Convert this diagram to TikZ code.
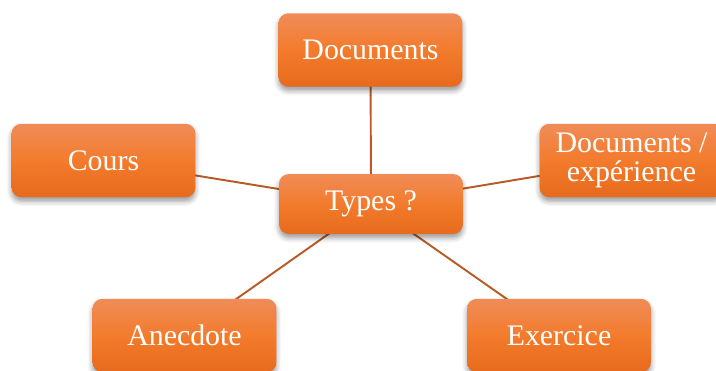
\documentclass[tikz,border=0pt]{standalone}
\usepackage{fontspec}
\setmainfont{Liberation Serif}
\usetikzlibrary{shadows.blur,backgrounds}

\definecolor{boxtop}{HTML}{F08C58}
\definecolor{boxmid}{HTML}{F37B2C}
\definecolor{boxbot}{HTML}{E86A1C}
\definecolor{linkcol}{HTML}{B85A26}

\tikzset{
  topic/.style={rectangle, rounded corners=0.2cm, minimum width=3.68cm, minimum height=1.47cm,
    top color=boxtop, bottom color=boxbot, middle color=boxmid, text=white, align=center,
    font=\fontsize{17}{16.5}\selectfont,
    blur shadow={shadow xshift=0pt, shadow yshift=-0.08cm, shadow blur radius=0.1cm}},
  link/.style={draw=linkcol, line width=1.1pt}
}

\begin{document}
\begin{tikzpicture}[x=0.02cm,y=-0.02cm]
\useasboundingbox (0,0) rectangle (716,371);
\node[topic, minimum height=1.2cm] (types) at (371,204) {Types ?};
\node[topic] (docs) at (370.5,50) {Documents};
\node[topic] (cours) at (103.5,160.5) {Cours};
\node[topic] (exp) at (631.5,160.5) {Documents /\\expérience};
\node[topic] (anec) at (184.5,335.5) {Anecdote};
\node[topic] (exer) at (559,335.5) {Exercice};
\begin{scope}[on background layer]
\foreach \n in {docs,cours,exp,anec,exer}{
  \draw[link] (types.center) -- (\n.center);
}
\end{scope}
\end{tikzpicture}
\end{document}
